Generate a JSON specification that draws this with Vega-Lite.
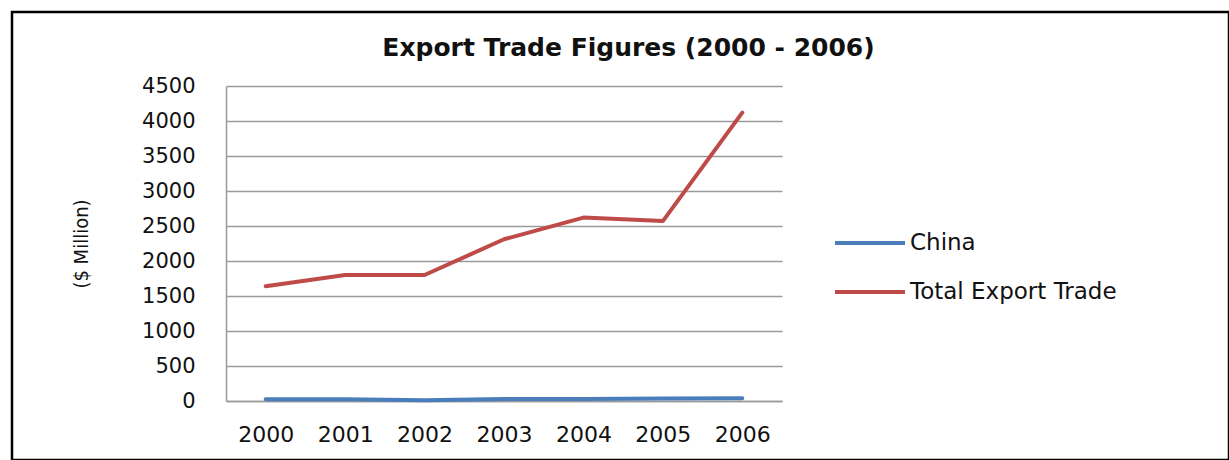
{
  "$schema": "https://vega.github.io/schema/vega-lite/v6.json",
  "autosize": {"type": "none"},
  "padding": {"left": 12, "top": 12, "right": 0, "bottom": 0},
  "width": 1217,
  "height": 448,
  "background": "white",
  "config": {
    "view": {"stroke": "#000000", "strokeWidth": 2.5},
    "font": "DejaVu Sans"
  },
  "title": {
    "text": "Export Trade Figures (2000 - 2006)",
    "font": "DejaVu Sans",
    "fontWeight": "bold",
    "fontSize": 25,
    "color": "#111111",
    "anchor": "middle",
    "frame": "group",
    "offset": -49,
    "dx": 8
  },
  "data": {
    "values": [
      {"year": 2000, "series": "China", "value": 25},
      {"year": 2001, "series": "China", "value": 25},
      {"year": 2002, "series": "China", "value": 12},
      {"year": 2003, "series": "China", "value": 30},
      {"year": 2004, "series": "China", "value": 28},
      {"year": 2005, "series": "China", "value": 35},
      {"year": 2006, "series": "China", "value": 38},
      {"year": 2000, "series": "Total Export Trade", "value": 1640},
      {"year": 2001, "series": "Total Export Trade", "value": 1800},
      {"year": 2002, "series": "Total Export Trade", "value": 1800},
      {"year": 2003, "series": "Total Export Trade", "value": 2310},
      {"year": 2004, "series": "Total Export Trade", "value": 2620},
      {"year": 2005, "series": "Total Export Trade", "value": 2570},
      {"year": 2006, "series": "Total Export Trade", "value": 4120}
    ]
  },
  "mark": {"type": "line", "strokeWidth": 4, "strokeCap": "round", "strokeJoin": "round"},
  "encoding": {
    "x": {
      "field": "year",
      "type": "quantitative",
      "scale": {"domain": [1999.5, 2006.5], "range": [214, 770], "nice": false, "zero": false},
      "axis": {
        "values": [2000, 2001, 2002, 2003, 2004, 2005, 2006],
        "format": "d",
        "title": null,
        "grid": false,
        "ticks": false,
        "offset": -59,
        "domainColor": "#9a9a9a",
        "domainWidth": 1.5,
        "labelFont": "DejaVu Sans",
        "labelFontSize": 22,
        "labelColor": "#111111",
        "labelPadding": 23,
        "labelOverlap": false,
        "labelFlush": false
      }
    },
    "y": {
      "field": "value",
      "type": "quantitative",
      "scale": {"domain": [0, 4500], "range": [389, 74], "nice": false},
      "axis": {
        "values": [0, 500, 1000, 1500, 2000, 2500, 3000, 3500, 4000, 4500],
        "format": "d",
        "title": "($ Million)",
        "titleFont": "DejaVu Sans Condensed",
        "titleFontWeight": "normal",
        "titleFontSize": 20,
        "titleColor": "#111111",
        "titlePadding": 50,
        "grid": true,
        "gridColor": "#9a9a9a",
        "gridWidth": 1.5,
        "ticks": false,
        "offset": -214,
        "domainColor": "#9a9a9a",
        "domainWidth": 1.5,
        "labelFont": "DejaVu Sans",
        "labelFontSize": 21,
        "labelColor": "#111111",
        "labelPadding": 31,
        "labelOverlap": false
      }
    },
    "color": {
      "field": "series",
      "type": "nominal",
      "scale": {"domain": ["China", "Total Export Trade"], "range": ["#4a7ebb", "#be4b48"]},
      "legend": {
        "title": null,
        "orient": "none",
        "legendX": 821,
        "legendY": 194,
        "symbolType": "stroke",
        "symbolSize": 4900,
        "symbolStrokeWidth": 4,
        "labelFont": "DejaVu Sans",
        "labelFontSize": 23,
        "labelColor": "#111111",
        "labelOffset": 3,
        "rowPadding": 0,
        "labelLimit": 400
      }
    }
  }
}
